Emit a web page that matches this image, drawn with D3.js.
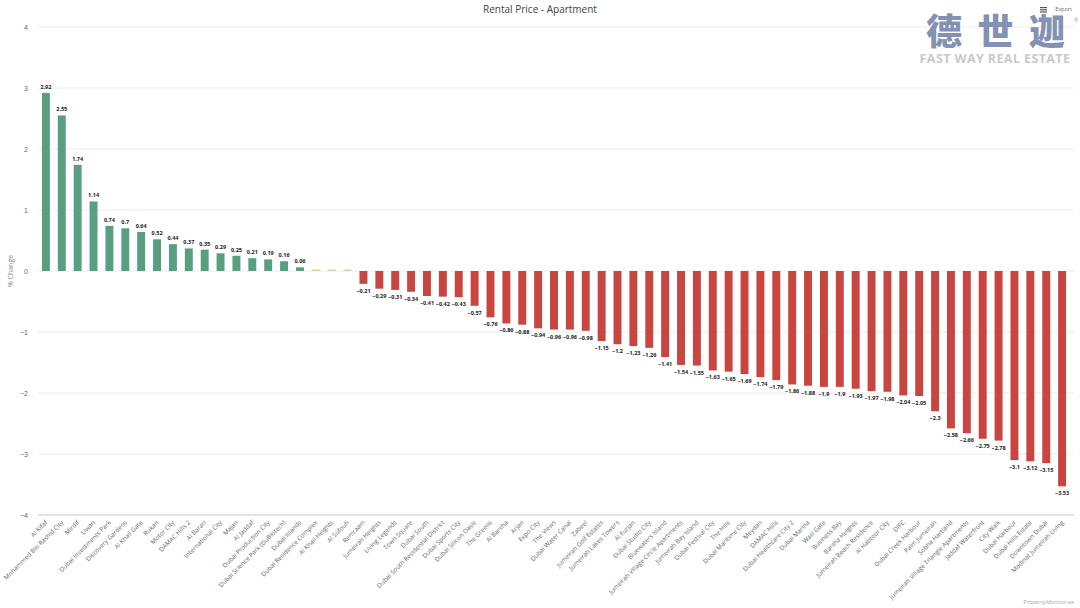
<!DOCTYPE html>
<html>
<head>
<meta charset="utf-8">
<script src="https://cdn.jsdelivr.net/npm/d3@7"></script>
<style>
  body { margin: 0; background: #fff; }
  svg { font-family: "Open Sans", "Noto Sans", sans-serif; }
</style>
</head>
<body>
<div id="canvas"></div>
<script>
const areas = [
  "Al Kifaf", "Mohammed Bin Rashid City", "Mirdif", "Liwan", "Dubai Investments Park",
  "Discovery Gardens", "Al Khail Gate", "Rukan", "Motor City", "DAMAC Hills 2",
  "Al Barari", "International City", "Majan", "Al Jaddaf", "Dubai Production City",
  "Dubai Science Park (DuBiotech)", "Dubai Islands", "Dubai Residence Complex", "Al Khail Heights", "Al Sufouh",
  "Remraam", "Jumeirah Heights", "Living Legends", "Town Square", "Dubai South",
  "Dubai South Residential District", "Dubai Sports City", "Dubai Silicon Oasis", "The Greens", "Al Barsha",
  "Arjan", "Expo City", "The Views", "Dubai Water Canal", "Zabeel",
  "Jumeirah Golf Estates", "Jumeirah Lakes Towers", "Al Furjan", "Dubai Studio City", "Bluewaters Island",
  "Jumeirah Village Circle Apartments", "Jumeirah Bay Island", "Dubai Festival City", "The Hills", "Dubai Maritime City",
  "Meydan", "DAMAC Hills", "Dubai Healthcare City 2", "Dubai Marina", "Wasl Gate",
  "Business Bay", "Barsha Heights", "Jumeirah Beach Residence", "Al Habtoor City", "DIFC",
  "Dubai Creek Harbour", "Palm Jumeirah", "Sobha Hartland", "Jumeirah Village Triangle Apartments", "Jaddaf Waterfront",
  "City Walk", "Dubai Harbour", "Dubai Hills Estate", "Downtown Dubai", "Madinat Jumeirah Living"
];

const change = [
  2.92, 2.55, 1.74, 1.14, 0.74,
  0.7, 0.64, 0.52, 0.44, 0.37,
  0.35, 0.29, 0.25, 0.21, 0.19,
  0.16, 0.06, 0, 0, 0,
  -0.21, -0.29, -0.31, -0.34, -0.41,
  -0.42, -0.43, -0.57, -0.76, -0.86,
  -0.88, -0.94, -0.96, -0.96, -0.98,
  -1.15, -1.2, -1.23, -1.26, -1.41,
  -1.54, -1.55, -1.63, -1.65, -1.69,
  -1.74, -1.79, -1.86, -1.88, -1.9,
  -1.9, -1.93, -1.97, -1.98, -2.04,
  -2.05, -2.3, -2.58, -2.66, -2.75,
  -2.78, -3.1, -3.12, -3.15, -3.53
];

const yTicks = [-4, -3, -2, -1, 0, 1, 2, 3, 4];

const logoChars = ["德", "世", "迦"];

const data = areas.map((a, i) => ({ area: a, value: change[i] }));

const width = 1080;
const height = 608;
const margin = { top: 27, left: 34, bottom: 93, right: 6 };

const svg = d3.select("#canvas").append("svg")
  .attr("width", width)
  .attr("height", height);

const x = d3.scaleBand()
  .domain(areas)
  .range([margin.left, width - margin.right])
  .padding(0.5);

const y = d3.scaleLinear()
  .domain([-4, 4])
  .range([height - margin.bottom, margin.top]);

// gridlines
svg.append("g")
  .selectAll("line")
  .data(yTicks)
  .join("line")
  .attr("x1", margin.left + 4)
  .attr("x2", width - margin.right)
  .attr("y1", d => y(d))
  .attr("y2", d => y(d))
  .attr("stroke", d => d === -4 ? "#dcdcdc" : "#ececec")
  .attr("stroke-width", d => d === -4 ? 1.5 : 1);

// y axis labels
const yAxis = svg.append("g")
  .attr("transform", `translate(${margin.left - 6},0)`)
  .call(d3.axisLeft(y).tickValues(yTicks).tickSize(0).tickPadding(0));
yAxis.select(".domain").remove();
yAxis.selectAll("text")
  .attr("fill", "#666")
  .style("font-size", "7px");

svg.append("text")
  .attr("transform", `translate(13,${y(0)}) rotate(-90)`)
  .attr("text-anchor", "middle")
  .attr("fill", "#888")
  .style("font-size", "7px")
  .text("% Change");

// bars
const colour = v => v > 0 ? "#5a9e80" : v < 0 ? "#c8463f" : "#d9d49b";

svg.append("g")
  .selectAll("rect")
  .data(data)
  .join("rect")
  .attr("x", d => x(d.area))
  .attr("width", x.bandwidth())
  .attr("y", d => d.value === 0 ? y(0) - 1.5 : Math.min(y(0), y(d.value)))
  .attr("height", d => d.value === 0 ? 1.5 : Math.abs(y(d.value) - y(0)))
  .attr("fill", d => colour(d.value));

// value labels
svg.append("g")
  .selectAll("text")
  .data(data.filter(d => d.value !== 0))
  .join("text")
  .attr("x", d => x(d.area) + x.bandwidth() / 2)
  .attr("y", d => d.value > 0 ? y(d.value) - 4 : y(d.value) + 9)
  .attr("text-anchor", "middle")
  .attr("fill", "#222")
  .style("font-size", "5.5px")
  .style("font-weight", "bold")
  .text(d => d.value < 0 ? "\u2212" + Math.abs(d.value) : d.value);

// category labels
svg.append("g")
  .selectAll("text")
  .data(areas)
  .join("text")
  .attr("transform", d => `translate(${x(d) + x.bandwidth() / 2 + 2},${height - margin.bottom + 8}) rotate(-45)`)
  .attr("text-anchor", "end")
  .attr("fill", "#666")
  .style("font-size", "6.3px")
  .text(d => d);

// title
svg.append("text")
  .attr("x", width / 2)
  .attr("y", 13)
  .attr("text-anchor", "middle")
  .attr("fill", "#444")
  .style("font-size", "10px")
  .text("Rental Price - Apartment");

// watermark logo
const lx = d3.scalePoint().domain(logoChars).range([944, 1047]);

svg.append("g")
  .selectAll("text")
  .data(logoChars)
  .join("text")
  .attr("x", d => lx(d))
  .attr("y", 45)
  .attr("text-anchor", "middle")
  .attr("fill", "#8391b3")
  .style("font-family", "'Noto Sans CJK SC', sans-serif")
  .style("font-size", "36px")
  .style("font-weight", "900")
  .text(d => d);

svg.append("text")
  .attr("x", 995)
  .attr("y", 63)
  .attr("text-anchor", "middle")
  .attr("fill", "#c9c9c9")
  .style("font-size", "12.5px")
  .style("font-weight", "bold")
  .style("letter-spacing", "0.4px")
  .text("FAST WAY REAL ESTATE");

svg.append("text")
  .attr("x", 1072)
  .attr("y", 10.5)
  .attr("text-anchor", "end")
  .attr("fill", "#666")
  .style("font-size", "5.5px")
  .text("Export");

svg.append("g")
  .selectAll("rect")
  .data([0, 1, 2])
  .join("rect")
  .attr("x", 1040)
  .attr("y", d => 7 + d * 2.2)
  .attr("width", 7)
  .attr("height", 1.2)
  .attr("fill", "#555");

svg.append("text")
  .attr("x", 1076)
  .attr("y", 22)
  .attr("text-anchor", "middle")
  .attr("fill", "#999")
  .style("font-size", "5px")
  .text("®");

svg.append("text")
  .attr("x", 1074)
  .attr("y", 604)
  .attr("text-anchor", "end")
  .attr("fill", "#aaa")
  .style("font-size", "5.5px")
  .text("PropertyMonitor.ae");
</script>
</body>
</html>
